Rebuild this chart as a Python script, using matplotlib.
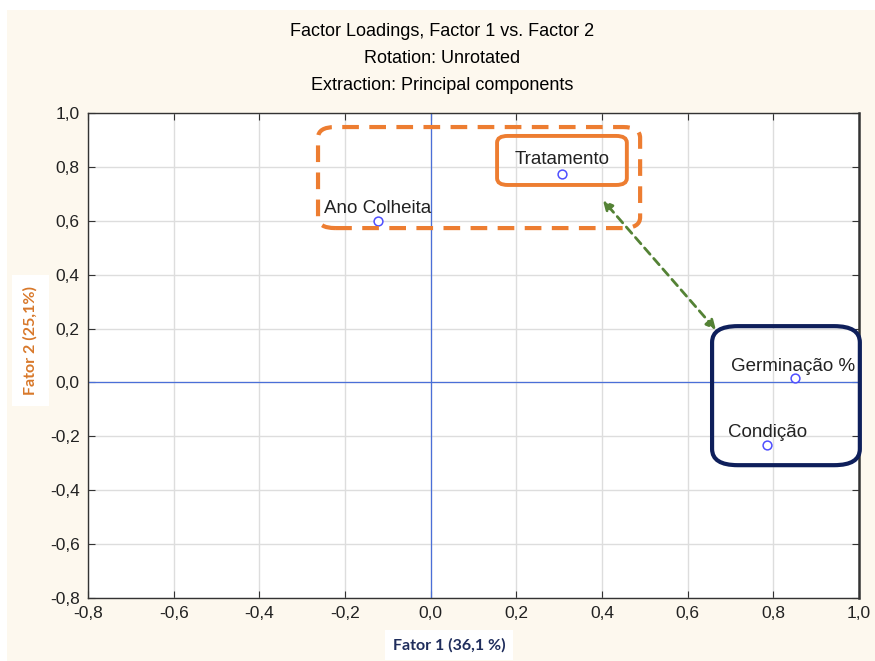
import matplotlib
matplotlib.use("Agg")
import matplotlib.pyplot as plt
from matplotlib.patches import FancyBboxPatch, Rectangle

# ── data ──
variables = ["Tratamento", "Ano Colheita", "Germinação %", "Condição"]
factor1 = [0.307, -0.123, 0.851, 0.785]
factor2 = [0.774, 0.599, 0.016, -0.232]

xticks = [-0.8, -0.6, -0.4, -0.2, 0.0, 0.2, 0.4, 0.6, 0.8, 1.0]
yticks = [-0.8, -0.6, -0.4, -0.2, 0.0, 0.2, 0.4, 0.6, 0.8, 1.0]

plt.rcParams['font.family'] = ['Liberation Sans', 'DejaVu Sans']

fig = plt.figure(figsize=(8.75, 6.61), dpi=100, facecolor='white')
# cream panel behind everything
fig.patches.append(Rectangle((0.008, 0.0), 0.992, 0.985, transform=fig.transFigure,
                             facecolor='#fdf8ee', edgecolor='none', zorder=-10))

ax = fig.add_axes([0.1006, 0.0953, 0.8811, 0.7337])
ax.set_facecolor('white')
ax.set_xlim(-0.8, 1.0)
ax.set_ylim(-0.8, 1.0)
ax.set_xticks(xticks)
ax.set_yticks(yticks)
fmt = lambda v: f"{v:.1f}".replace('.', ',')
ax.set_xticklabels([fmt(v) for v in xticks])
ax.set_yticklabels([fmt(v) for v in yticks])
ax.tick_params(direction='in', top=True, right=True, length=5, labelsize=12.5,
               labelcolor='#222222', color='#333333', pad=6)
ax.grid(True, color='#dddddd', linewidth=1)
ax.set_axisbelow(True)
for s in ax.spines.values():
    s.set_color('#333333')
    s.set_linewidth(1.0)
ax.spines['right'].set_linewidth(1.8)

ax.axhline(0, color='#4a6fd8', linewidth=0.9, zorder=2)
ax.axvline(0, color='#4a6fd8', linewidth=0.9, zorder=2)

ax.scatter(factor1, factor2, s=40, facecolors='white', edgecolors='#4f4fff',
           linewidths=1.1, zorder=4)

# labels placed up-left of each point
offsets = {"Tratamento": (-0.112, 0.052), "Ano Colheita": (-0.127, 0.045),
           "Germinação %": (-0.149, 0.045), "Condição": (-0.090, 0.045)}
for name, x, y in zip(variables, factor1, factor2):
    dx, dy = offsets[name]
    ax.text(x + dx, y + dy, name, fontsize=13.5, color='#222222', zorder=5,
            va='center', ha='left', clip_on=False)

# title
fig.text(0.505, 0.952, "Factor Loadings, Factor 1 vs. Factor 2", ha='center', va='center', fontsize=13)
fig.text(0.505, 0.911, "Rotation: Unrotated", ha='center', va='center', fontsize=13)
fig.text(0.505, 0.870, "Extraction: Principal components", ha='center', va='center', fontsize=13)

# axis labels in white boxes
fig.text(0.513, 0.024, "Fator 1 (36,1 %)", ha='center', va='center', fontsize=11.5,
         fontweight='bold', color='#1f2d5c', family=['Lato', 'DejaVu Sans'],
         bbox=dict(boxstyle='square,pad=0.5', facecolor='white', edgecolor='none'))
fig.text(0.035, 0.485, "Fator 2 (25,1%)", ha='center', va='center', fontsize=11.5,
         fontweight='bold', color='#d8782a', rotation=90, family=['Lato', 'DejaVu Sans'],
         bbox=dict(boxstyle='square,pad=0.7', facecolor='white', edgecolor='none'))

# highlight boxes
orange = '#ed7d31'
ax.add_patch(FancyBboxPatch((-0.263, 0.573), 0.752, 0.375,
                            boxstyle='round,pad=0,rounding_size=0.04',
                            fill=False, edgecolor=orange, linewidth=3,
                            linestyle=(0, (4, 2.5)), clip_on=False, zorder=6))
ax.add_patch(FancyBboxPatch((0.155, 0.733), 0.303, 0.182,
                            boxstyle='round,pad=0,rounding_size=0.025',
                            fill=False, edgecolor=orange, linewidth=2.8,
                            clip_on=False, zorder=6))
ax.add_patch(FancyBboxPatch((0.657, -0.307), 0.345, 0.516,
                            boxstyle='round,pad=0,rounding_size=0.06',
                            fill=False, edgecolor='#0e1f5b', linewidth=3,
                            clip_on=False, zorder=6))
ax.annotate("", xy=(0.402, 0.677), xytext=(0.666, 0.195),
            arrowprops=dict(arrowstyle='<|-|>', color='#548235', linewidth=2,
                            linestyle=(0, (3, 2)), mutation_scale=14,
                            shrinkA=0, shrinkB=0), zorder=6)

fig.savefig("out.png", dpi=100, facecolor=fig.get_facecolor())
